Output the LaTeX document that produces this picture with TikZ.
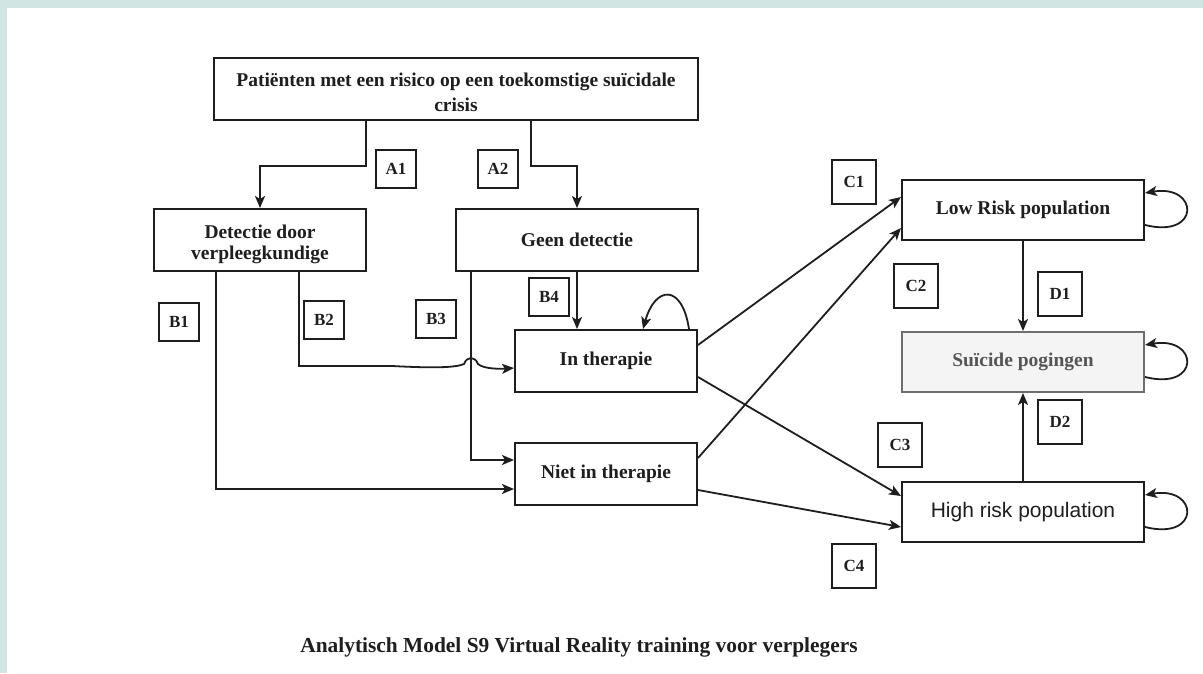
\documentclass[tikz,border=0pt]{standalone}
\usepackage{fontspec}
\setmainfont{Liberation Serif}
\newfontfamily\sansf{Liberation Sans}
\usetikzlibrary{arrows.meta,calc}
\definecolor{frame}{HTML}{D1E5E2}
\definecolor{ink}{HTML}{1E1E1E}
\definecolor{softfill}{HTML}{F4F4F4}
\definecolor{softline}{HTML}{6E6E6E}
\definecolor{softtext}{HTML}{555555}
\begin{document}
\begin{tikzpicture}[x=1pt,y=-1pt,
  box/.style={draw=ink,line width=2pt,inner sep=0pt,align=center,
    font=\fontsize{19.5}{22}\selectfont\bfseries,text=ink},
  boxtext/.style={inner sep=0pt,align=center,text=ink},
  tag/.style={draw=ink,line width=2pt,inner sep=0pt,minimum width=40pt,
    minimum height=38pt,font=\fontsize{17}{20}\selectfont\bfseries,text=ink},
  bigtag/.style={tag,minimum width=44pt,minimum height=44pt},
  arr/.style={draw=ink,line width=1.8pt,
    -{Stealth[length=12pt,width=10pt,inset=3pt]}}]
\useasboundingbox (0,0) rectangle (1203,673);
\fill[frame] (0,0) rectangle (1203,673);
\fill[white] (7,8) rectangle (1203,673);

% boxes
\node[box,minimum width=484pt,minimum height=62pt] (top) at (456,89) {};
\node[boxtext,font=\fontsize{19.5}{25}\selectfont\bfseries] (toptext)
  at ($(top)+(0,3.5)$)
  {Patiënten met een risico op een toekomstige suïcidale\\crisis};
\node[box,minimum width=212pt,minimum height=62pt] (det) at (260,240) {};
\node[boxtext,font=\fontsize{19.5}{21}\selectfont\bfseries] (dettext)
  at ($(det)+(0,4.5)$) {Detectie door\\verpleegkundige};
\node[box,minimum width=242pt,minimum height=62pt] (geen) at (577,240)
  {Geen detectie};
\node[box,minimum width=182pt,minimum height=62pt] (inth) at (606,361)
  {In therapie};
\node[box,minimum width=182pt,minimum height=62pt] (niet) at (606,474)
  {Niet in therapie};
\node[box,minimum width=242pt,minimum height=60pt] (low) at (1023,210)
  {Low Risk population};
\node[box,draw=softline,fill=softfill,text=softtext,minimum width=242pt,
  minimum height=60pt] (sui) at (1023,362) {Suïcide pogingen};
\node[box,minimum width=242pt,minimum height=60pt,
  font=\sansf\fontsize{21}{24}\selectfont] (high) at (1023,512)
  {High risk population};

% path labels
\node[tag] (a1) at (396,169) {A1};
\node[tag] (a2) at (498,169) {A2};
\node[tag] (b1) at (179,322) {B1};
\node[tag] (b2) at (324,320) {B2};
\node[tag] (b3) at (436,319) {B3};
\node[tag] (b4) at (549,297) {B4};
\node[bigtag] (c1) at (854,182) {C1};
\node[bigtag] (c2) at (916,286) {C2};
\node[bigtag] (c3) at (900,445) {C3};
\node[bigtag] (c4) at (854,566) {C4};
\node[bigtag] (d1) at (1060,294) {D1};
\node[bigtag] (d2) at (1060,422) {D2};

% split of the population
\draw[arr] ([xshift=-90pt]top.south) -- ++(0,45) -| (det.north);
\draw[arr] ([xshift=75pt]top.south) -- ++(0,45) -| (geen.north);

% routes into therapy
\draw[arr] ([xshift=-44pt]det.south) |- ([yshift=-15pt]niet.west);
\draw[arr] ([xshift=-106pt]geen.south) |- ([yshift=14pt]niet.west);
\draw[arr] (geen.south) -- (geen.south |- inth.north);
\coordinate (hop) at (471,366);
\draw[arr] ([xshift=39pt]det.south) |- ($(hop)+(-79,0)$)
  .. controls ($(hop)+(-41,2)$) and ($(hop)+(-16,2)$) .. ($(hop)+(-7,-2)$)
  .. controls ($(hop)+(-4,-10)$) and ($(hop)+(4,-10)$) .. ($(hop)+(7,-2)$)
  .. controls ($(hop)+(13,3)$) and ($(hop)+(28,3)$) .. ([yshift=-7pt]inth.west);
\draw[arr] ([xshift=83pt]inth.north) .. controls +(-7,-46) and +(12,-43)
  .. ([xshift=37pt]inth.north);

% towards risk groups
\draw[arr] ([yshift=16pt]inth.east) -- ([yshift=13pt]low.west);
\draw[arr] ([yshift=-16pt]inth.east) -- ([yshift=16pt]high.west);
\draw[arr] ([yshift=16pt]niet.east) -- ([yshift=-18pt]low.west);
\draw[arr] ([yshift=-16pt]niet.east) -- ([yshift=-15pt]high.west);

% attempts
\draw[arr] (low.south) -- (low.south |- sui.north);
\draw[arr] (high.north) -- (high.north |- sui.south);

% self loops
\foreach \n in {low,sui,high}{
  \draw[arr] ([yshift=-15pt]\n.east) .. controls +(56,14) and +(54,-9)
    .. ([yshift=17pt]\n.east);
}

% caption
\node[font=\fontsize{21.4}{24}\selectfont\bfseries,text=ink] (cap) at (579,647)
  {Analytisch Model S9 Virtual Reality training voor verplegers};
\end{tikzpicture}
\end{document}
